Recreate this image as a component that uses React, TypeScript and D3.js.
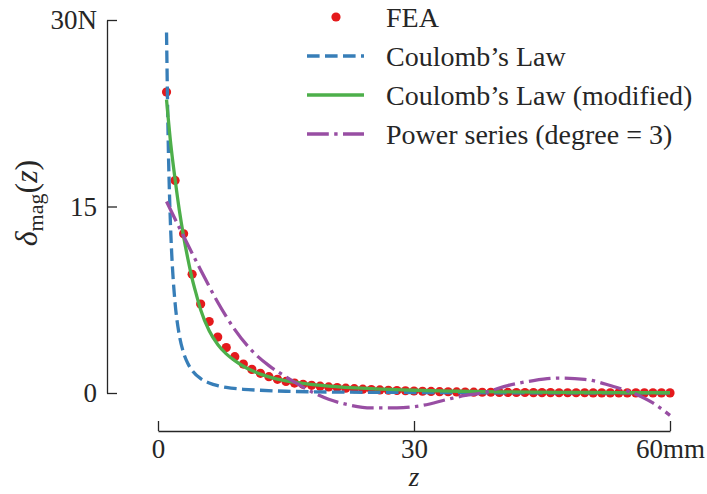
import { useEffect, useRef } from "react";
import * as d3 from "d3";

// FEA samples, one per mm starting at z = 1
const feaValues = [
  24.2, 17.1, 12.8, 9.55, 7.15, 5.75, 4.5, 3.65, 2.92, 2.33,
  1.9, 1.58, 1.31, 1.1, 0.93, 0.8, 0.7, 0.62, 0.55, 0.49,
  0.44, 0.39, 0.35, 0.31, 0.28, 0.25, 0.22, 0.2, 0.18, 0.16,
  0.14, 0.13, 0.11, 0.1, 0.09, 0.08, 0.07, 0.06, 0.06, 0.05,
  0.05, 0.04, 0.04, 0.03, 0.03, 0.03, 0.02, 0.02, 0.02, 0.02,
  0.01, 0.01, 0.01, 0.01, 0.01, 0.01, 0.01, 0.01, 0.01, 0.01,
];
const feaZ = [
  1, 2, 3, 4, 5, 6, 7, 8, 9, 10, 11, 12, 13, 14, 15, 16, 17, 18, 19, 20,
  21, 22, 23, 24, 25, 26, 27, 28, 29, 30, 31, 32, 33, 34, 35, 36, 37, 38, 39, 40,
  41, 42, 43, 44, 45, 46, 47, 48, 49, 50, 51, 52, 53, 54, 55, 56, 57, 58, 59, 60,
];

const coulombZ = [1, 1.2, 1.4, 1.6, 1.8, 2, 2.5, 3, 3.5, 4, 5, 6, 7, 8, 10, 12, 15, 20, 30, 40, 60];
const coulombV = [29, 20.1, 14.8, 11.3, 8.95, 7.25, 4.64, 3.22, 2.37, 1.81, 1.16, 0.81, 0.59, 0.45, 0.3, 0.22, 0.14, 0.08, 0.04, 0.02, 0.01];

const modZ = [1, 1.5, 2, 2.5, 3, 3.5, 4, 4.5, 5, 6, 7, 8, 9, 10, 11, 12, 13, 14, 15, 17, 20, 25, 30, 35, 40, 50, 60];
const modV = [23.6, 20.0, 17.2, 14.7, 12.6, 10.8, 9.2, 7.9, 6.7, 5.0, 3.9, 3.15, 2.6, 2.15, 1.8, 1.52, 1.3, 1.12, 0.98, 0.78, 0.56, 0.35, 0.22, 0.14, 0.09, 0.04, 0.02];

const powZ = [1, 3, 5, 7, 9, 11, 13, 15, 18, 20, 22, 25, 28, 31, 34, 36, 38, 41, 44, 47, 50, 53, 56, 58, 60];
const powV = [15.4, 12.6, 9.9, 7.3, 5.1, 3.4, 2.2, 1.3, 0.1, -0.5, -0.9, -1.2, -1.2, -1.0, -0.5, -0.2, 0.0, 0.6, 1.0, 1.2, 1.1, 0.6, -0.1, -0.8, -1.8];

const xTicks = [0, 30, 60];
const xTickLabels = ["0", "30", "60mm"];
const yTicks = [0, 15, 30];
const yTickLabels = ["0", "15", "30N"];

const legendLabels = ["FEA", "Coulomb\u2019s Law", "Coulomb\u2019s Law (modified)", "Power series (degree = 3)"];
const colors = ["#e41a1c", "#377eb8", "#4daf4a", "#984ea3"];

const FONT = "'Liberation Serif', 'Times New Roman', serif";
const INK = "#262626";

export default function App() {
  const width = 707;
  const height = 494;
  const svgRef = useRef<SVGSVGElement>(null);

  useEffect(() => {
    const svg = d3.select(svgRef.current);
    const x = d3.scaleLinear().domain([0, 60]).range([158, 670]);
    const y = d3.scaleLinear().domain([0, 30]).range([393, 20]);

    const yAxis = d3
      .axisLeft(y)
      .tickValues(yTicks)
      .tickSizeInner(-10)
      .tickSizeOuter(0)
      .tickPadding(10)
      .tickFormat((d, i) => yTickLabels[i]);
    const xAxis = d3
      .axisBottom(x)
      .tickValues(xTicks)
      .tickSizeInner(-10)
      .tickSizeOuter(0)
      .tickPadding(8)
      .tickFormat((d, i) => xTickLabels[i]);

    const styleAxis = (g) => {
      g.attr("font-family", FONT).attr("font-size", 27);
      g.selectAll("path, line").attr("stroke", INK).attr("stroke-width", 1.3);
      g.selectAll("text").attr("fill", INK);
    };

    svg.select<SVGGElement>(".y-axis").attr("transform", "translate(107,0)").call(yAxis).call(styleAxis);
    svg.select<SVGGElement>(".x-axis").attr("transform", "translate(0,431)").call(xAxis).call(styleAxis);

    const plot = svg.select(".plot");
    plot.selectAll("*").remove();

    plot
      .selectAll("circle")
      .data(feaValues)
      .join("circle")
      .attr("cx", (d, i) => x(feaZ[i]))
      .attr("cy", (d) => y(d))
      .attr("r", 4.6)
      .attr("fill", colors[0]);

    const lineGen = (zs: number[]) =>
      d3
        .line<number>()
        .x((d, i) => x(zs[i]))
        .y((d) => y(d))
        .curve(d3.curveMonotoneX);

    const series = [
      { z: coulombZ, v: coulombV, color: colors[1], dash: "12.6 5.4" },
      { z: modZ, v: modV, color: colors[2], dash: null },
      { z: powZ, v: powV, color: colors[3], dash: "21.8 5.4 3.4 5.4" },
    ];
    series.forEach((s) => {
      plot
        .append("path")
        .attr("d", lineGen(s.z)(s.v))
        .attr("fill", "none")
        .attr("stroke", s.color)
        .attr("stroke-width", 3.3)
        .attr("stroke-dasharray", s.dash);
    });

    // legend
    const legend = svg.select(".legend");
    legend.selectAll("*").remove();
    const rowY = [17, 56, 95, 134];
    legend
      .append("circle")
      .attr("cx", 336)
      .attr("cy", rowY[0])
      .attr("r", 4.6)
      .attr("fill", colors[0]);
    series.forEach((s, i) => {
      legend
        .append("line")
        .attr("x1", 307)
        .attr("x2", 364)
        .attr("y1", rowY[i + 1])
        .attr("y2", rowY[i + 1])
        .attr("stroke", s.color)
        .attr("stroke-width", 3.3)
        .attr("stroke-dasharray", s.dash);
    });
    legend
      .selectAll("text")
      .data(legendLabels)
      .join("text")
      .attr("x", 386)
      .attr("y", (d, i) => rowY[i] + 10)
      .attr("font-family", FONT)
      .attr("font-size", 28)
      .attr("fill", INK)
      .text((d) => d);
  }, []);

  return (
    <svg ref={svgRef} width={width} height={height} style={{ position: "absolute", left: 0, top: 0 }}>
      <rect width={width} height={height} fill="white" />
      <g className="plot" />
      <g className="x-axis" />
      <g className="y-axis" />
      <g className="legend" />
      <text x={414} y={486} textAnchor="middle" fontFamily={FONT} fontSize={27} fontStyle="italic" fill={INK}>
        z
      </text>
      <text transform="translate(37,203) rotate(-90)" textAnchor="middle" fontFamily={FONT} fontSize={32} fill={INK}>
        <tspan fontStyle="italic">δ</tspan>
        <tspan fontSize={22} dy={6}>mag</tspan>
        <tspan dy={-6}>(</tspan>
        <tspan fontStyle="italic">z</tspan>
        <tspan>)</tspan>
      </text>
    </svg>
  );
}
